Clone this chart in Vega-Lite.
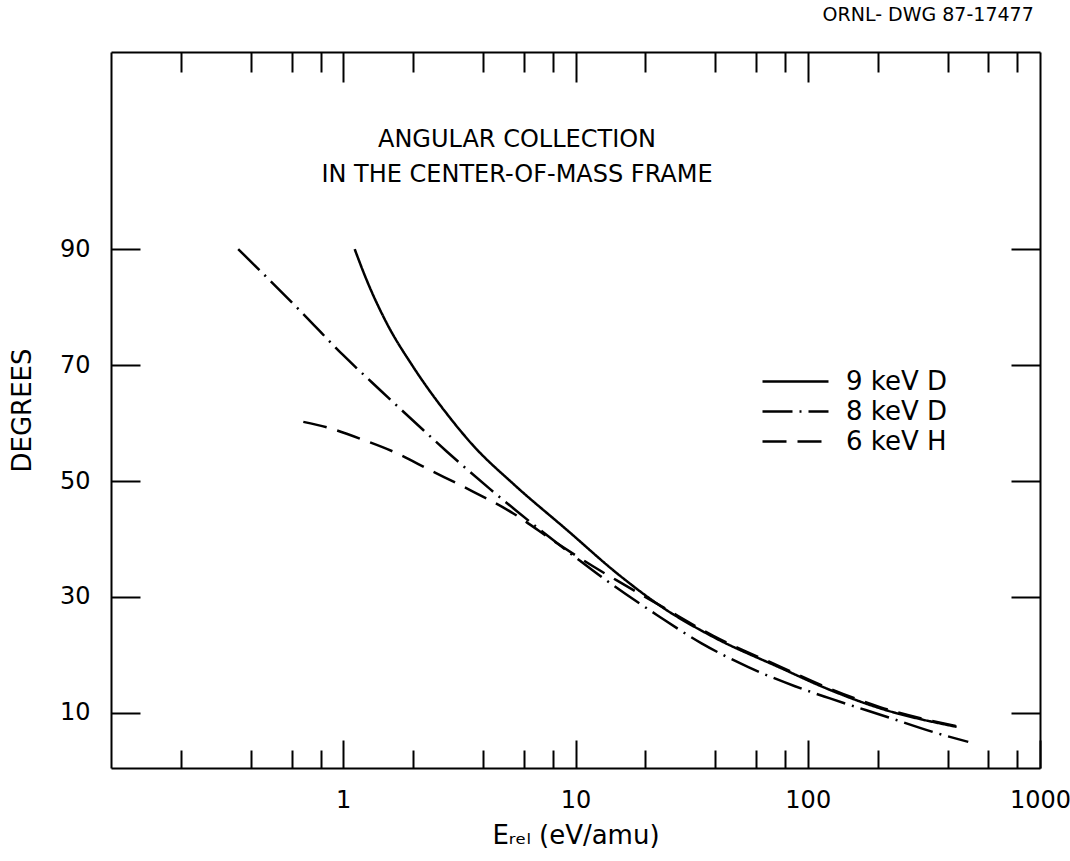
{
  "$schema": "https://vega.github.io/schema/vega-lite/v6.json",
  "width": 929,
  "height": 716,
  "autosize": {"type": "none"},
  "padding": {"left": 111, "top": 52, "right": 30, "bottom": 93},
  "background": "white",
  "config": {
    "view": {"stroke": null},
    "font": "DejaVu Sans",
    "axis": {
      "domainColor": "black", "domainWidth": 2,
      "tickColor": "black", "tickWidth": 2,
      "labelColor": "black", "labelFont": "DejaVu Sans", "labelFontSize": 24,
      "titleColor": "black", "titleFont": "DejaVu Sans", "titleFontSize": 26, "titleFontWeight": "normal",
      "grid": false
    }
  },
  "data": {
    "values": [
      {"series": "9 keV D", "E": 1.12, "deg": 90},
      {"series": "9 keV D", "E": 1.26, "deg": 84.7},
      {"series": "9 keV D", "E": 1.54, "deg": 77.2},
      {"series": "9 keV D", "E": 2.0, "deg": 69.7},
      {"series": "9 keV D", "E": 2.83, "deg": 61.3},
      {"series": "9 keV D", "E": 3.63, "deg": 56.1},
      {"series": "9 keV D", "E": 5.4, "deg": 49.5},
      {"series": "9 keV D", "E": 9.16, "deg": 41.6},
      {"series": "9 keV D", "E": 15.5, "deg": 33.7},
      {"series": "9 keV D", "E": 23.9, "deg": 28.1},
      {"series": "9 keV D", "E": 39.2, "deg": 23.1},
      {"series": "9 keV D", "E": 76, "deg": 17.8},
      {"series": "9 keV D", "E": 120.7, "deg": 14.2},
      {"series": "9 keV D", "E": 204.7, "deg": 10.8},
      {"series": "9 keV D", "E": 437.6, "deg": 7.6},
      {"series": "8 keV D", "E": 0.353, "deg": 90},
      {"series": "8 keV D", "E": 0.651, "deg": 79.4},
      {"series": "8 keV D", "E": 1.0, "deg": 71.7},
      {"series": "8 keV D", "E": 1.44, "deg": 65.7},
      {"series": "8 keV D", "E": 2.21, "deg": 58.8},
      {"series": "8 keV D", "E": 2.79, "deg": 55.1},
      {"series": "8 keV D", "E": 4.29, "deg": 48.6},
      {"series": "8 keV D", "E": 7.03, "deg": 41.6},
      {"series": "8 keV D", "E": 10.5, "deg": 36.2},
      {"series": "8 keV D", "E": 14.3, "deg": 32.2},
      {"series": "8 keV D", "E": 22.4, "deg": 26.9},
      {"series": "8 keV D", "E": 34.9, "deg": 22.0},
      {"series": "8 keV D", "E": 55.5, "deg": 17.9},
      {"series": "8 keV D", "E": 88.1, "deg": 14.6},
      {"series": "8 keV D", "E": 124.7, "deg": 12.5},
      {"series": "8 keV D", "E": 220, "deg": 9.3},
      {"series": "8 keV D", "E": 347, "deg": 6.7},
      {"series": "8 keV D", "E": 491, "deg": 5.0},
      {"series": "6 keV H", "E": 0.673, "deg": 60.2},
      {"series": "6 keV H", "E": 0.877, "deg": 59.1},
      {"series": "6 keV H", "E": 1.22, "deg": 57.1},
      {"series": "6 keV H", "E": 1.7, "deg": 54.8},
      {"series": "6 keV H", "E": 2.36, "deg": 51.9},
      {"series": "6 keV H", "E": 3.3, "deg": 49.0},
      {"series": "6 keV H", "E": 5.4, "deg": 44.4},
      {"series": "6 keV H", "E": 8.3, "deg": 39.3},
      {"series": "6 keV H", "E": 12.7, "deg": 34.6},
      {"series": "6 keV H", "E": 15.0, "deg": 32.9},
      {"series": "6 keV H", "E": 23.9, "deg": 28.2},
      {"series": "6 keV H", "E": 39.2, "deg": 23.3},
      {"series": "6 keV H", "E": 76, "deg": 18.0},
      {"series": "6 keV H", "E": 120.7, "deg": 14.4},
      {"series": "6 keV H", "E": 204.7, "deg": 11.0},
      {"series": "6 keV H", "E": 450, "deg": 7.6}
    ]
  },
  "layer": [
    {
      "mark": {"type": "line", "color": "black", "strokeWidth": 2.5, "interpolate": "monotone"},
      "encoding": {
        "x": {
          "field": "E", "type": "quantitative",
          "scale": {"type": "log", "domain": [0.1, 1000], "nice": false},
          "axis": {
            "orient": "bottom",
            "values": [0.2, 0.4, 0.6, 0.8, 1, 2, 4, 6, 8, 10, 20, 40, 60, 80, 100, 200, 400, 600, 800, 1000],
            "tickSize": {"condition": {"test": "datum.value == 1 || datum.value == 10 || datum.value == 100 || datum.value == 1000", "value": -28}, "value": -18},
            "labelExpr": "datum.value == 1 || datum.value == 10 || datum.value == 100 || datum.value == 1000 ? format(datum.value, 'd') : ''",
            "labelPadding": 48,
            "labelFlush": false,
            "title": "Eᵣₑₗ (eV/amu)",
            "titlePadding": 10
          }
        },
        "y": {
          "field": "deg", "type": "quantitative",
          "scale": {"domain": [0.5, 124], "nice": false, "zero": false},
          "axis": {
            "orient": "left",
            "values": [10, 30, 50, 70, 90],
            "tickSize": -29,
            "labelPadding": 50,
            "title": "DEGREES",
            "titlePadding": 24
          }
        },
        "strokeDash": {
          "field": "series", "type": "nominal",
          "scale": {"domain": ["9 keV D", "8 keV D", "6 keV H"], "range": [[1, 0], [30, 7, 2, 7], [24, 11]]},
          "legend": {
            "orient": "none", "legendX": 686, "legendY": 313,
            "title": null,
            "symbolType": "M-3.4,0L1,0", "symbolSize": 900, "symbolStrokeWidth": 2.5, "symbolStrokeColor": "black",
            "labelFontSize": 26, "labelFont": "DejaVu Sans", "labelColor": "black", "labelOffset": 16,
            "rowPadding": 0
          }
        }
      }
    },
    {
      "mark": {"type": "line", "opacity": 0},
      "encoding": {
        "x": {
          "field": "E", "type": "quantitative",
          "axis": {
            "orient": "top",
            "values": [0.2, 0.4, 0.6, 0.8, 1, 2, 4, 6, 8, 10, 20, 40, 60, 80, 100, 200, 400, 600, 800],
            "tickSize": {"condition": {"test": "datum.value == 1 || datum.value == 10 || datum.value == 100", "value": -30}, "value": -20},
            "labels": false, "title": null
          }
        },
        "y": {
          "field": "deg", "type": "quantitative",
          "axis": {"orient": "right", "values": [10, 30, 50, 70, 90], "tickSize": -29, "labels": false, "title": null}
        },
        "detail": {"field": "series"}
      }
    },
    {
      "data": {"values": [{}]},
      "mark": {"type": "text", "text": ["ANGULAR COLLECTION", "IN THE CENTER-OF-MASS FRAME"], "lineHeight": 35, "fontSize": 24, "font": "DejaVu Sans", "color": "black", "align": "center", "baseline": "middle"},
      "encoding": {
        "x": {"datum": 5.6, "type": "quantitative", "axis": null},
        "y": {"datum": 108.8, "type": "quantitative", "axis": null}
      }
    },
    {
      "data": {"values": [{}]},
      "mark": {"type": "text", "text": "ORNL- DWG 87-17477", "fontSize": 19, "font": "DejaVu Sans", "color": "black", "align": "right", "baseline": "middle"},
      "encoding": {
        "x": {"datum": 940, "type": "quantitative", "axis": null},
        "y": {"datum": 130.4, "type": "quantitative", "axis": null}
      }
    }
  ],
  "resolve": {"axis": {"x": "independent", "y": "independent"}}
}
